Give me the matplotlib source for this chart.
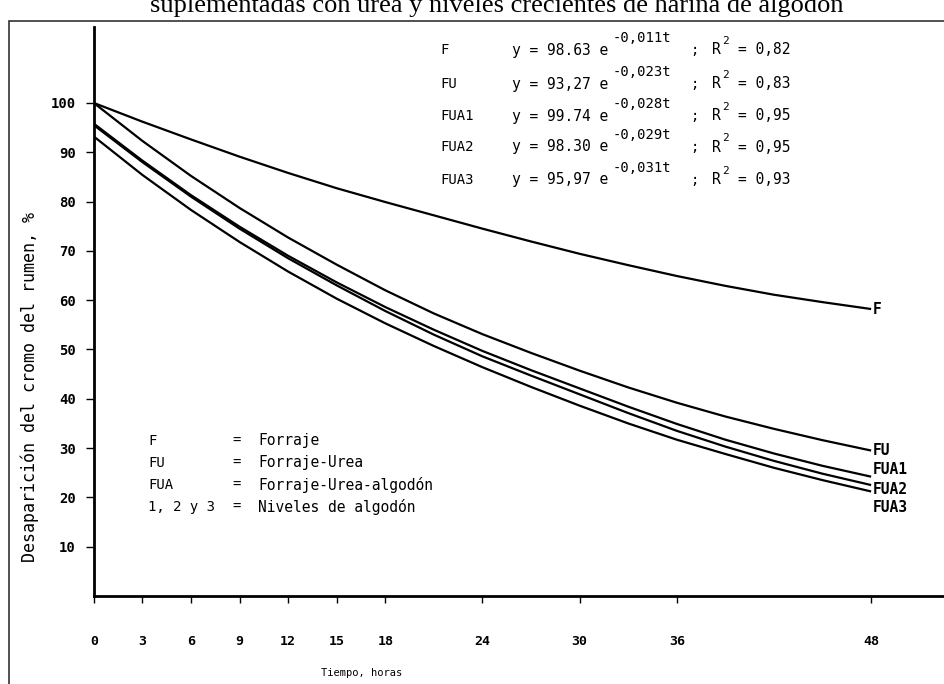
import matplotlib
matplotlib.use("Agg")
import matplotlib.pyplot as plt
from matplotlib.patches import Rectangle

# horas
tiempo = [0, 3, 6, 9, 12, 15, 18, 21, 24, 27, 30, 33, 36, 39, 42, 45, 48]

# desaparicion del cromo (%)
F = [100, 96.2, 92.6, 89.1, 85.8, 82.7, 79.9, 77.2, 74.5, 71.9, 69.4, 67.1, 64.9, 62.9, 61.1, 59.6, 58.2]
FU = [100, 92.3, 85.2, 78.7, 72.7, 67.2, 62.0, 57.3, 53.1, 49.3, 45.7, 42.3, 39.2, 36.4, 33.9, 31.6, 29.5]
FUA1 = [95.8, 88.3, 81.3, 74.9, 69.0, 63.6, 58.6, 54.0, 49.7, 45.8, 42.1, 38.4, 34.9, 31.7, 28.9, 26.4, 24.2]
FUA2 = [95.5, 88.0, 81.0, 74.5, 68.5, 63.0, 57.8, 53.0, 48.6, 44.7, 40.9, 37.1, 33.5, 30.3, 27.4, 24.8, 22.5]
FUA3 = [93.2, 85.4, 78.3, 71.8, 65.8, 60.3, 55.3, 50.7, 46.4, 42.4, 38.6, 35.0, 31.7, 28.8, 26.0, 23.5, 21.2]

curvas = [F, FU, FUA1, FUA2, FUA3]
etiquetas = ["F", "FU", "FUA1", "FUA2", "FUA3"]
etiqueta_y = [58.2, 29.5, 25.6, 21.6, 18.0]

x_ticks = [0, 3, 6, 9, 12, 15, 18, 24, 30, 36, 48]
y_ticks = [10, 20, 30, 40, 50, 60, 70, 80, 90, 100]

ecuaciones = [
    ("F", "y = 98.63 e", "-0,011t", "= 0,82"),
    ("FU", "y = 93,27 e", "-0,023t", "= 0,83"),
    ("FUA1", "y = 99.74 e", "-0,028t", "= 0,95"),
    ("FUA2", "y = 98.30 e", "-0,029t", "= 0,95"),
    ("FUA3", "y = 95,97 e", "-0,031t", "= 0,93"),
]

leyenda_abrev = ["F", "FU", "FUA", "1, 2 y 3"]
leyenda_texto = ["Forraje", "Forraje-Urea", "Forraje-Urea-algodón", "Niveles de algodón"]

mono = "DejaVu Sans Mono"
W, H = 944, 684

fig = plt.figure(figsize=(9.44, 6.84), dpi=100)
ax = fig.add_axes([93.8 / W, 88 / H, 1 - 93.8 / W, (596 - 27) / H])

for serie in curvas:
    ax.plot(tiempo, serie, color="black", lw=1.6, solid_capstyle="butt")

for lab, yv in zip(etiquetas, etiqueta_y):
    ax.text(48.1, yv, lab, family=mono, fontsize=10.5, fontweight="bold",
            va="center", ha="left")

ax.set_xlim(0, 52.5)
ax.set_ylim(0, 115.4)
ax.set_xticks(x_ticks)
ax.set_yticks(y_ticks)
ax.tick_params(axis="x", direction="out", length=5, width=1, pad=23, labelsize=9.5)
ax.tick_params(axis="y", direction="out", length=6, width=1, pad=7, labelsize=10)
for lbl in ax.get_xticklabels() + ax.get_yticklabels():
    lbl.set_family(mono)
    lbl.set_fontweight("bold")

for s in ["top", "right"]:
    ax.spines[s].set_visible(False)
ax.spines["left"].set_linewidth(2)
ax.spines["bottom"].set_linewidth(2)

# ecuaciones de ajuste
fy = [50, 84, 116, 147, 180]
for (lab, base, expo, r2), py in zip(ecuaciones, fy):
    yy = 1 - py / H
    fig.text(440 / W, yy, lab, family=mono, fontsize=10, va="center")
    fig.text(512 / W, yy, base, family=mono, fontsize=10.5, va="center")
    fig.text(613 / W, yy + 12 / H, expo, family=mono, fontsize=10, va="center")
    fig.text(690 / W, yy, ";", family=mono, fontsize=10, va="center")
    fig.text(712 / W, yy, "R", family=mono, fontsize=10.5, va="center")
    fig.text(722 / W, yy + 9 / H, "2", family=mono, fontsize=8, va="center")
    fig.text(738 / W, yy, r2, family=mono, fontsize=10.5, va="center")

# leyenda de tratamientos
ly = [441, 463, 485, 507]
for ab, tx, py in zip(leyenda_abrev, leyenda_texto, ly):
    yy = 1 - py / H
    fig.text(148 / W, yy, ab, family=mono, fontsize=10, va="center")
    fig.text(232 / W, yy, "=", family=mono, fontsize=10, va="center")
    fig.text(258 / W, yy, tx, family=mono, fontsize=10.5, va="center")

fig.text(30 / W, 1 - 387 / H, "Desaparición del cromo del rumen, %", family=mono,
         fontsize=12, rotation=90, va="center", ha="center")
fig.text(362 / W, 1 - 673 / H, "Tiempo, horas", family=mono, fontsize=7.5,
         va="center", ha="center")

# marco de la pagina escaneada y linea de texto cortada
fig.patches.append(Rectangle((9 / W, -0.05), 1.1, 1 - 21 / H + 0.05, transform=fig.transFigure,
                             fill=False, edgecolor="#333333", lw=1.2))
fig.text(150 / W, 1 - 12 / H, "suplementadas con urea y niveles crecientes de harina de algodón",
         family="Liberation Serif", fontsize=19, va="baseline", ha="left")

fig.savefig("out.png", dpi=100)
